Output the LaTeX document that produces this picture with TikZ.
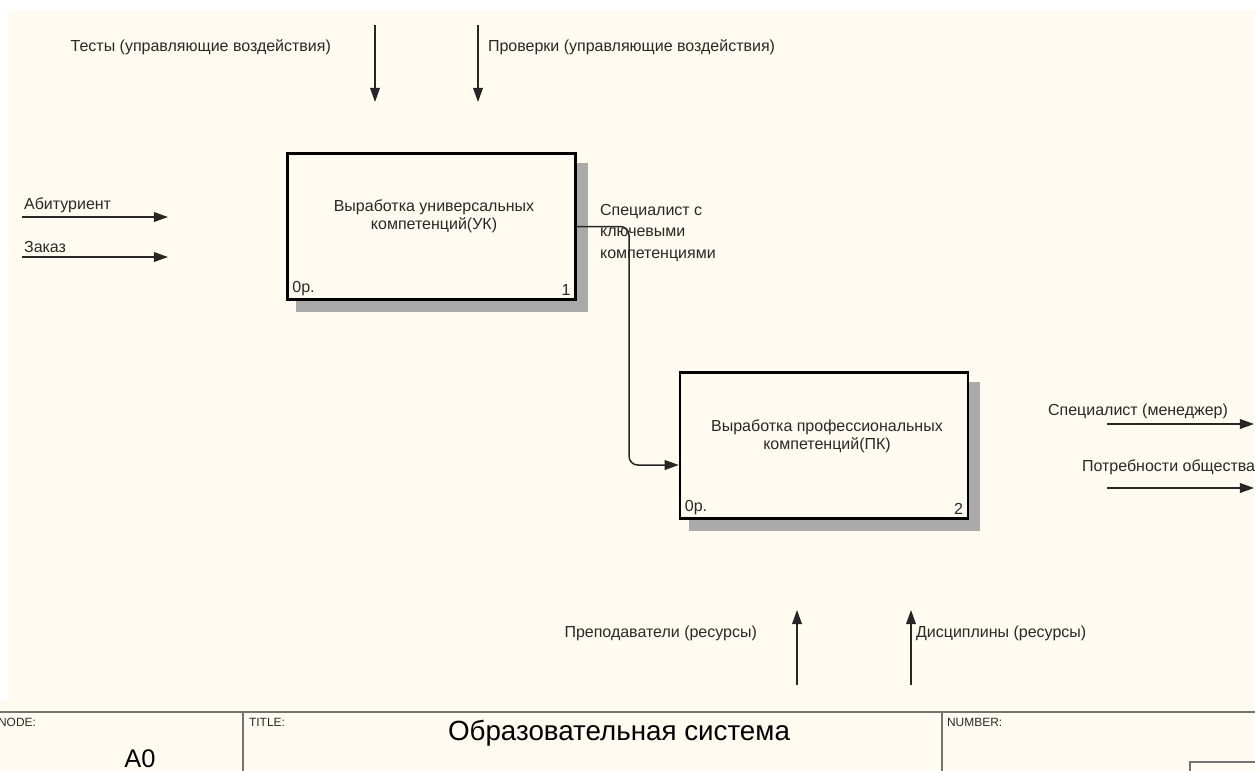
\documentclass[tikz,border=0pt]{standalone}
\usepackage{fontspec}
\setmainfont{Liberation Sans}
\usetikzlibrary{arrows.meta,positioning,calc,backgrounds}
\definecolor{paper}{RGB}{255,251,240}
\definecolor{shadow}{RGB}{170,170,170}
\definecolor{ink}{RGB}{40,40,40}

\begin{document}
\begin{tikzpicture}[x=0.02cm,y=-0.02cm,font=\fontsize{9.1}{10.2}\selectfont,
  >={Triangle[length=8pt,width=5.5pt]},
  act/.style={draw,line width=1.4pt,fill=paper,minimum width=5.76cm,minimum height=2.92cm,inner sep=0pt},
  arr/.style={->,line width=0.85pt,draw=black!85},
  lbl/.style={inner sep=1pt,text=ink},
  corner/.style={inner sep=1pt,text=ink},
  frm/.style={draw=black!55,line width=1.2pt},
  tiny/.style={inner sep=1pt,text=ink,font=\fontsize{6.8}{8}\selectfont}]
\useasboundingbox (0,0) rectangle (1255,771);

% activities
\node[act] (uk) at (431.5,226.5) {};
\node[act] (pk) at (824,445.5) {};
\node[lbl,align=center] (uk-t) at (434,216) {Выработка универсальных\\компетенций(УК)};
\node[lbl,align=center] (pk-t) at (827,436) {Выработка профессиональных\\компетенций(ПК)};
\node[corner,anchor=south west] (uk-o) at ($(uk.south west)+(4,-3)$) {0р.};
\node[corner,anchor=south east] (uk-n) at ($(uk.south east)+(-4,-3)$) {1};
\node[corner,anchor=south west] (pk-o) at ($(pk.south west)+(4,-3)$) {0р.};
\node[corner,anchor=south east] (pk-n) at ($(pk.south east)+(-4,-3)$) {2};

\begin{scope}[on background layer]
\fill[white] (0,0) rectangle (1255,771);
\fill[paper] (8,10) rectangle (1255,771);
\fill[paper] (0,700) rectangle (8,771);
\fill[shadow] ($(uk.south west)+(10,11)$) rectangle ($(uk.north east)+(11,11)$);
\fill[shadow] ($(pk.south west)+(10,11)$) rectangle ($(pk.north east)+(11,11)$);
\end{scope}

% controls
\coordinate (ts) at (375,25);
\coordinate (te) at (375,102);
\coordinate (ps) at (478,25);
\coordinate (pe) at (478,102);
\draw[arr] (ts) -- (te);
\draw[arr] (ps) -- (pe);
\node[lbl,anchor=east] (tests) at (333,47) {Тесты (управляющие воздействия)};
\node[lbl,anchor=west] (checks) at (486,47) {Проверки (управляющие воздействия)};

% inputs
\coordinate (as) at (22,217);
\coordinate (ae) at (168,217);
\coordinate (zs) at (22,257);
\coordinate (ze) at (168,257);
\draw[arr] (as) -- (ae);
\draw[arr] (zs) -- (ze);
\node[lbl,anchor=south west,yshift=1pt] (abit) at (as) {Абитуриент};
\node[lbl,anchor=south west,yshift=1pt] (order) at (zs) {Заказ};

% link between activities
\coordinate (bend) at (629,465);
\draw[arr,rounded corners=5pt] (uk.east) -| (bend) -- (bend -| pk.west);
\node[lbl,anchor=west,align=left,font=\fontsize{9.1}{12.2}\selectfont] (spec) at (598,233)
  {Специалист с\\ключевыми\\компетенциями};

% outputs
\coordinate (ms) at (1107,424);
\coordinate (me) at (1254,424);
\coordinate (ns) at (1107,488);
\coordinate (ne) at (1254,488);
\draw[arr] (ms) -- (me);
\draw[arr] (ns) -- (ne);
\node[lbl,anchor=south east] (manager) at (1230,421) {Специалист (менеджер)};
\node[lbl,anchor=west] (needs) at (1080,467) {Потребности общества};

% mechanisms
\coordinate (rs) at (797,685);
\coordinate (re) at (797,610);
\coordinate (ds) at (911,685);
\coordinate (de) at (911,610);
\draw[arr] (rs) -- (re);
\draw[arr] (ds) -- (de);
\node[lbl,anchor=east] (teachers) at (759,633) {Преподаватели (ресурсы)};
\node[lbl,anchor=west] (subjects) at (914,633) {Дисциплины (ресурсы)};

% frame
\draw[frm] (0,712) -- (1255,712);
\draw[frm] (243,712) -- (243,771);
\draw[frm] (942,712) -- (942,771);
\draw[frm] (1190,775) |- (1258,762);
\node[tiny,anchor=north west] (node-l) at (-4,716) {NODE:};
\node[tiny,anchor=north west] (title-l) at (247,716) {TITLE:};
\node[tiny,anchor=north west] (num-l) at (945,716) {NUMBER:};
\node[inner sep=0pt,text=black,font=\fontsize{14.5}{16}\selectfont] (a0) at (140,759) {A0};
\node[inner sep=0pt,text=black,font=\fontsize{15.8}{17}\selectfont] (title) at (619,733) {Образовательная система};
\end{tikzpicture}
\end{document}
